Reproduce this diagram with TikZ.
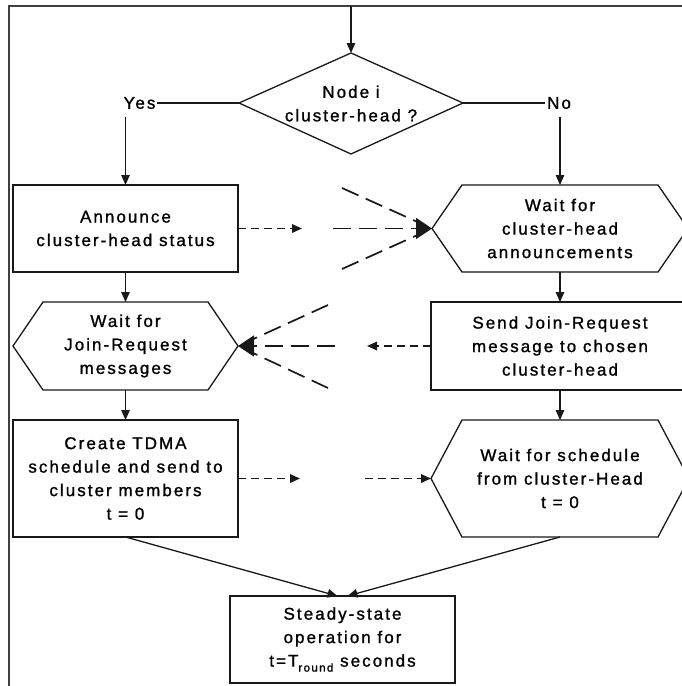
\documentclass[tikz,border=0pt]{standalone}
\usepackage{fontspec}
\setmainfont{Liberation Sans}[LetterSpace=12, FakeBold=1.2]
\usetikzlibrary{arrows.meta}

% outline of a flat hexagon drawn round a (borderless) node
\newcommand\hexoutline[2]{%
  \draw[plain] ([xshift=#2]#1.north west) -- ([xshift=-#2]#1.north east) -- (#1.east)
    -- ([xshift=-#2]#1.south east) -- ([xshift=#2]#1.south west) -- (#1.west) -- cycle;}
% outline of a rectangle drawn round a (borderless) node
\newcommand\rectoutline[1]{%
  \draw[plain] (#1.north west) rectangle (#1.south east);}

\begin{document}
\begin{tikzpicture}[x=1pt,y=-1pt,
  txt/.style={font=\fontsize{17}{23.5}\selectfont, align=center, inner sep=0pt, outer sep=0pt, text=black},
  plain/.style={draw=black!90, line width=1.3pt},
  flow/.style={plain, -{Triangle[length=10pt,width=8.5pt]}},
  shortdash/.style={flow, line width=1.7pt, dash pattern=on 8pt off 5pt},
  bcast/.style={draw=black!90, line width=1.7pt, dash pattern=on 18pt off 8pt},
  bhead/.style={bcast, -{Triangle[length=16pt,width=21pt]}},
  frameline/.style={draw=black!75, line width=1.5pt}
]
\useasboundingbox[fill=white] (0,0) rectangle (682,686);

% outer frame
\coordinate (fbl) at (9,690);
\coordinate (ftl) at (9,6);
\coordinate (ftr) at (690,6);
\draw[frameline] (fbl) -- (ftl) -- (ftr);

% decision
\node[txt] (q) at (351,103.5) {Node i\\cluster-head ?};
\coordinate (qn) at (351,53);
\coordinate (qe) at (463,103);
\coordinate (qs) at (351,154);
\coordinate (qw) at (239,103);
\draw[plain] (qn) -- (qe) -- (qs) -- (qw) -- cycle;
\coordinate (entry) at (351,6);
\draw[flow] (entry) -- (qn);

\node[txt] (yes) at (139.5,103) {Yes};
\node[txt] (no) at (559,103) {No};
\draw[plain, shorten <=2pt] (yes.east) -- (qw);
\draw[plain, shorten >=2pt] (qe) -- (no.west);

% process steps
\node[txt, minimum width=225pt, minimum height=87pt] (ann) at (125.5,228.5) {Announce\\cluster-head status};
\node[txt, minimum width=256pt, minimum height=87pt] (wch) at (560,228.5) {Wait for\\cluster-head\\announcements};
\node[txt, minimum width=225pt, minimum height=88pt] (wjr) at (125.5,346) {Wait for\\Join-Request\\messages};
\node[txt, minimum width=258pt, minimum height=88pt] (snd) at (560,346) {Send Join-Request\\message to chosen\\cluster-head};
\node[txt, minimum width=225pt, minimum height=117pt] (crt) at (125.5,478.5) {Create TDMA\\schedule and send to\\cluster members\\t = 0};
\node[txt, minimum width=258pt, minimum height=117pt] (wsc) at (560,478.5) {Wait for schedule\\from cluster-Head\\t = 0};
\node[txt, minimum width=225pt, minimum height=87pt] (std) at (342.5,639.5)
  {Steady-state\\operation for\\t=T\raisebox{-5pt}{\fontsize{11.5}{12}\selectfont round} seconds};

\rectoutline{ann}
\rectoutline{snd}
\rectoutline{crt}
\rectoutline{std}
\hexoutline{wch}{30}
\hexoutline{wjr}{30}
\hexoutline{wsc}{31}

% yes / no branches
\coordinate (ya) at (125.5,117);
\coordinate (na) at (560,117);
\draw[flow] (ya) -- (ann.north);
\draw[flow] (na) -- (wch.north);

% vertical flow
\draw[flow] (ann.south) -- (wjr.north);
\draw[flow] (wjr.south) -- (crt.north);
\draw[flow] (wch.south) -- (snd.north);
\draw[flow] (snd.south) -- (wsc.north);

% join into steady state
\draw[flow] (crt.south) -- ([xshift=-5pt]std.north);
\draw[flow] (wsc.south) -- ([xshift=5pt]std.north);

% cluster-head announcement broadcast
\coordinate (d1) at (302,228.5);
\draw[shortdash] (ann.east) -- (d1);
\coordinate (f1a) at (342,188);
\coordinate (f1b) at (333,228.5);
\coordinate (f1c) at (342,269);
\draw[bcast, shorten >=10pt] (f1a) -- (wch.west);
\draw[bcast, shorten >=10pt] (f1c) -- (wch.west);
\draw[bhead] (f1b) -- (wch.west);

% join-request messages
\coordinate (d2) at (367,346);
\draw[shortdash] (snd.west) -- (d2);
\coordinate (f2a) at (328,305);
\coordinate (f2b) at (335,346);
\coordinate (f2c) at (328,388);
\draw[bcast, shorten >=10pt] (f2a) -- (wjr.east);
\draw[bcast, shorten >=10pt] (f2c) -- (wjr.east);
\draw[bhead] (f2b) -- (wjr.east);

% TDMA schedule
\coordinate (d3) at (300,478.5);
\coordinate (d4) at (365,478.5);
\draw[shortdash] (crt.east) -- (d3);
\draw[shortdash] (d4) -- (wsc.west);
\end{tikzpicture}
\end{document}
